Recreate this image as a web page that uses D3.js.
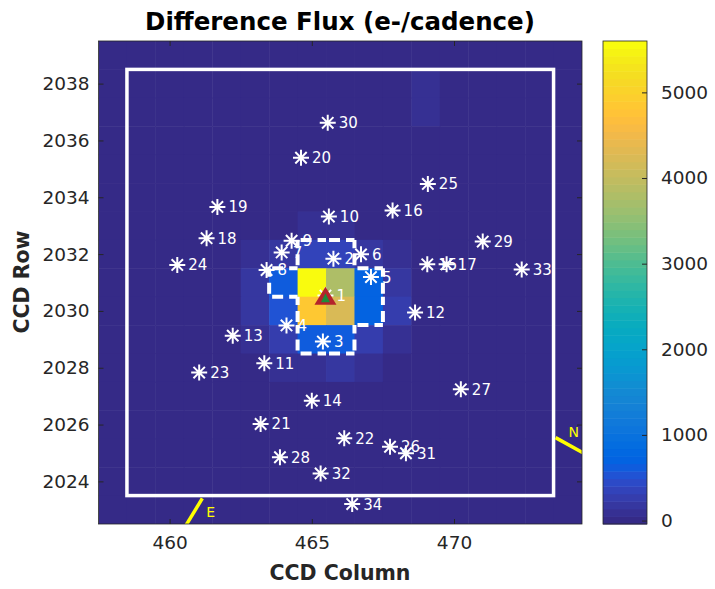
<!DOCTYPE html>
<html>
<head>
<meta charset="utf-8">
<script src="https://cdn.jsdelivr.net/npm/d3@7"></script>
<style>
  body { margin: 0; background: #fff; }
  text { font-family: "DejaVu Sans", sans-serif; }
</style>
</head>
<body>
<div id="chart"></div>
<script>
// pixel grid (CCD columns / rows) and difference flux per pixel, e-/cadence
var pixelCols = [458, 459, 460, 461, 462, 463, 464, 465, 466, 467, 468, 469, 470, 471, 472, 473, 474];
var pixelRows = [2039, 2038, 2037, 2036, 2035, 2034, 2033, 2032, 2031, 2030, 2029, 2028, 2027, 2026, 2025, 2024, 2023];
var fluxImage = [
  [0, 0, 0, 0, 0, 0,   0,    0,    0,   0,   0,  0, 0, 0, 0, 0, 0],
  [0, 0, 0, 0, 0, 0,   0,    0,    0,   0,   0, 90, 0, 0, 0, 0, 0],
  [0, 0, 0, 0, 0, 0,   0,    0,    0,   0,   0, 90, 0, 0, 0, 0, 0],
  [0, 0, 0, 0, 0, 0,   0,    0,    0,   0,   0,  0, 0, 0, 0, 0, 0],
  [0, 0, 0, 0, 0, 0,   0,    0,    0,   0,   0,  0, 0, 0, 0, 0, 0],
  [0, 0, 0, 0, 0, 0,   0,    0,    0,   0,   0,  0, 0, 0, 0, 0, 0],
  [0, 0, 0, 0, 0, 0,   0,  110,  110,   0,   0,  0, 0, 0, 0, 0, 0],
  [0, 0, 0, 0, 0, 90,  170, 330,  380, 170, 100,  0, 0, 0, 0, 0, 0],
  [0, 0, 0, 0, 0, 140, 620, 5580, 3820, 680, 200, 0, 0, 0, 0, 0, 0],
  [0, 0, 0, 0, 0, 190, 520, 4850, 4250, 700, 230, 0, 0, 0, 0, 0, 0],
  [0, 0, 0, 0, 0, 110, 260, 640,  660, 300, 120,  0, 0, 0, 0, 0, 0],
  [0, 0, 0, 0, 0, 0,   70,   80,  140,  80,   0,  0, 0, 0, 0, 0, 0],
  [0, 0, 0, 0, 0, 0,   0,    0,    0,   0,   0,  0, 0, 0, 0, 0, 0],
  [0, 0, 0, 0, 0, 0,   0,    0,    0,   0,   0,  0, 0, 0, 0, 0, 0],
  [0, 0, 0, 0, 0, 0,   0,    0,    0,   0,   0,  0, 0, 0, 0, 0, 0],
  [0, 0, 0, 0, 0, 0,   0,    0,    0,   0,   0,  0, 0, 0, 0, 0, 0],
  [0, 0, 0, 0, 0, 0,   0,    0,    0,   0,   0,  0, 0, 0, 0, 0, 0]
];

// optimal aperture pixels
var apertureCols = [465, 466, 464, 465, 466, 467, 465, 466, 467, 465, 466];
var apertureRows = [2032, 2032, 2031, 2031, 2031, 2031, 2030, 2030, 2030, 2029, 2029];

// catalog stars
var starIds  = [1, 2, 3, 4, 5, 6, 7, 8, 9, 10, 11, 12, 13, 14, 15, 16, 17, 18, 19, 20, 21, 22, 23, 24, 25, 26, 27, 28, 29, 30, 31, 32, 33, 34];
var starCols = [465.48, 465.76, 465.39, 464.11, 467.08, 466.73, 463.94, 463.41, 464.29, 465.60, 463.33, 468.63, 462.22, 465.00, 469.06, 467.84, 469.74,
                461.30, 461.68, 464.62, 463.20, 466.14, 461.04, 460.27, 469.08, 467.75, 470.24, 463.88, 471.01, 465.56, 468.31, 465.31, 472.38, 466.42];
var starRows = [2030.54, 2031.84, 2028.92, 2029.49, 2031.19, 2031.99, 2032.06, 2031.44, 2032.47, 2033.32, 2028.16, 2029.94, 2029.13, 2026.84, 2031.64, 2033.53, 2031.64,
                2032.56, 2033.66, 2035.39, 2026.02, 2025.52, 2027.83, 2031.62, 2034.47, 2025.22, 2027.24, 2024.85, 2032.44, 2036.62, 2024.99, 2024.28, 2031.46, 2023.20];

// target and centroid
var targetPos = [465.48, 2030.50];
var centroidPos = [465.48, 2030.45];

// outer mask box and compass
var maskCols = [458.5, 473.5];
var maskRows = [2023.5, 2038.5];
var northLineCols = [473.57, 475.0];
var northLineRows = [2025.54, 2024.75];
var northLabelPos = [474.21, 2025.75];
var eastLineCols = [461.15, 460.30];
var eastLineRows = [2023.40, 2022.00];
var eastLabelPos = [461.44, 2022.93];

var xTicks = [460, 465, 470];
var yTicks = [2024, 2026, 2028, 2030, 2032, 2034, 2036, 2038];
var cbarTicks = [0, 1000, 2000, 3000, 4000, 5000];
var colorLimits = [-40, 5600];

var parula = [
[0.2081,0.1663,0.5292],[0.2116,0.1898,0.5777],[0.2123,0.2138,0.6270],[0.2081,0.2386,0.6771],
[0.1959,0.2645,0.7279],[0.1707,0.2919,0.7792],[0.1253,0.3242,0.8303],[0.0591,0.3598,0.8683],
[0.0117,0.3875,0.8820],[0.0060,0.4086,0.8828],[0.0165,0.4266,0.8786],[0.0329,0.4430,0.8720],
[0.0498,0.4586,0.8641],[0.0629,0.4737,0.8554],[0.0723,0.4887,0.8467],[0.0779,0.5040,0.8384],
[0.0793,0.5200,0.8312],[0.0749,0.5375,0.8263],[0.0641,0.5570,0.8240],[0.0488,0.5772,0.8228],
[0.0343,0.5966,0.8199],[0.0265,0.6137,0.8135],[0.0239,0.6287,0.8038],[0.0231,0.6418,0.7913],
[0.0228,0.6535,0.7768],[0.0267,0.6642,0.7607],[0.0384,0.6743,0.7436],[0.0590,0.6838,0.7254],
[0.0843,0.6928,0.7062],[0.1133,0.7015,0.6859],[0.1453,0.7098,0.6646],[0.1801,0.7177,0.6424],
[0.2178,0.7250,0.6193],[0.2586,0.7317,0.5954],[0.3022,0.7376,0.5712],[0.3482,0.7424,0.5473],
[0.3953,0.7459,0.5244],[0.4420,0.7481,0.5033],[0.4871,0.7491,0.4840],[0.5300,0.7491,0.4661],
[0.5709,0.7485,0.4494],[0.6099,0.7473,0.4337],[0.6473,0.7456,0.4188],[0.6834,0.7435,0.4044],
[0.7184,0.7411,0.3905],[0.7525,0.7384,0.3768],[0.7858,0.7356,0.3633],[0.8185,0.7327,0.3498],
[0.8507,0.7299,0.3360],[0.8824,0.7274,0.3217],[0.9139,0.7258,0.3063],[0.9450,0.7261,0.2886],
[0.9739,0.7314,0.2666],[0.9938,0.7455,0.2403],[0.9990,0.7653,0.2164],[0.9955,0.7861,0.1967],
[0.9880,0.8066,0.1794],[0.9789,0.8271,0.1633],[0.9697,0.8481,0.1475],[0.9626,0.8705,0.1309],
[0.9589,0.8949,0.1132],[0.9598,0.9218,0.0948],[0.9661,0.9514,0.0755],[0.9763,0.9831,0.0538]
].map(function(c){ return d3.rgb(c[0]*255, c[1]*255, c[2]*255).formatHex(); });

var W = 715, H = 589;
var plot = {left: 98.5, right: 582, top: 41, bottom: 524};
var cbar = {left: 603, right: 647};
var axisColor = "#262626";

var svg = d3.select("#chart").append("svg")
  .attr("width", W)
  .attr("height", H);

var x = d3.scaleLinear().domain([457.5, 474.5]).range([plot.left, plot.right]);
var y = d3.scaleLinear().domain([2022.5, 2039.5]).range([plot.bottom, plot.top]);
var color = d3.scaleQuantize().domain(colorLimits).range(parula);

svg.append("clipPath").attr("id", "plotClip")
  .append("rect")
  .attr("x", plot.left).attr("y", plot.top)
  .attr("width", plot.right - plot.left).attr("height", plot.bottom - plot.top);

var g = svg.append("g").attr("clip-path", "url(#plotClip)");

// image pixels
var cells = [];
pixelRows.forEach(function(r, i){
  pixelCols.forEach(function(c, j){
    cells.push({col: c, row: r, v: fluxImage[i][j]});
  });
});
g.selectAll("rect.cell")
  .data(cells)
  .enter().append("rect")
  .attr("class", "cell")
  .attr("x", function(d){ return x(d.col - 0.5); })
  .attr("y", function(d){ return y(d.row + 0.5); })
  .attr("width", function(d){ return x(d.col + 0.5) - x(d.col - 0.5) + 0.5; })
  .attr("height", function(d){ return y(d.row - 0.5) - y(d.row + 0.5) + 0.5; })
  .style("fill", function(d){ return color(d.v); });

// outer mask box
g.append("rect")
  .attr("x", x(maskCols[0]))
  .attr("y", y(maskRows[1]))
  .attr("width", x(maskCols[1]) - x(maskCols[0]))
  .attr("height", y(maskRows[0]) - y(maskRows[1]))
  .style("fill", "none")
  .style("stroke", "#fff")
  .style("stroke-width", 3.5);

// stars with labels, drawn in order so later ones overlap earlier labels
var starPath = "M-8,0H8M0,-8V8M-5.7,-5.7L5.7,5.7M-5.7,5.7L5.7,-5.7";
starIds.forEach(function(id, i){
  var sg = g.append("g")
    .attr("transform", "translate(" + x(starCols[i]) + "," + y(starRows[i]) + ")");
  sg.append("path")
    .attr("d", starPath)
    .style("stroke", "#fff")
    .style("stroke-width", 2)
    .style("fill", "none");
  sg.append("text")
    .attr("x", 11)
    .attr("y", 5.5)
    .style("fill", "#fff")
    .style("font-size", "15px")
    .text(id);
});

// aperture outline, edge by edge
var inAperture = {};
apertureCols.forEach(function(c, i){ inAperture[c + "_" + apertureRows[i]] = true; });
var edges = [];
apertureCols.forEach(function(c, i){
  var r = apertureRows[i];
  if (!inAperture[c + "_" + (r + 1)]) edges.push([c - 0.5, r + 0.5, c + 0.5, r + 0.5]);
  if (!inAperture[c + "_" + (r - 1)]) edges.push([c - 0.5, r - 0.5, c + 0.5, r - 0.5]);
  if (!inAperture[(c - 1) + "_" + r]) edges.push([c - 0.5, r - 0.5, c - 0.5, r + 0.5]);
  if (!inAperture[(c + 1) + "_" + r]) edges.push([c + 0.5, r - 0.5, c + 0.5, r + 0.5]);
});
g.selectAll("line.ap")
  .data(edges)
  .enter().append("line")
  .attr("class", "ap")
  .attr("x1", function(d){ return x(d[0]); })
  .attr("y1", function(d){ return y(d[1]); })
  .attr("x2", function(d){ return x(d[2]); })
  .attr("y2", function(d){ return y(d[3]); })
  .style("stroke", "#fff")
  .style("stroke-width", 4)
  .style("stroke-dasharray", "11,6")
  .style("stroke-dashoffset", -3);

// target (red) and centroid (green)
g.append("path")
  .attr("transform", "translate(" + x(targetPos[0]) + "," + y(targetPos[1]) + ")")
  .attr("d", "M0,-10L11,8L-11,8Z")
  .style("fill", "#b4232b");
g.append("path")
  .attr("transform", "translate(" + x(centroidPos[0]) + "," + y(centroidPos[1]) + ")")
  .attr("d", "M0,-5L4.5,4L-4.5,4Z")
  .style("fill", "#1f8a3c");

// compass
g.append("line")
  .attr("x1", x(northLineCols[0])).attr("y1", y(northLineRows[0]))
  .attr("x2", x(northLineCols[1])).attr("y2", y(northLineRows[1]))
  .style("stroke", "#ffff00").style("stroke-width", 3.5);
g.append("text")
  .attr("x", x(northLabelPos[0])).attr("y", y(northLabelPos[1]))
  .attr("text-anchor", "middle").attr("dy", "0.35em")
  .style("fill", "#ffff00").style("font-size", "14px")
  .text("N");
g.append("line")
  .attr("x1", x(eastLineCols[0])).attr("y1", y(eastLineRows[0]))
  .attr("x2", x(eastLineCols[1])).attr("y2", y(eastLineRows[1]))
  .style("stroke", "#ffff00").style("stroke-width", 3.5);
g.append("text")
  .attr("x", x(eastLabelPos[0])).attr("y", y(eastLabelPos[1]))
  .attr("text-anchor", "middle").attr("dy", "0.35em")
  .style("fill", "#ffff00").style("font-size", "14px")
  .text("E");

// axes, ticks inward on all sides
var tickLen = 5;
function styleAxis(sel){
  sel.select(".domain").remove();
  sel.selectAll("line").style("stroke", axisColor);
  sel.selectAll("text").style("fill", axisColor).style("font-size", "18.5px");
}
svg.append("g")
  .attr("transform", "translate(0," + plot.bottom + ")")
  .call(d3.axisBottom(x).tickValues(xTicks).tickSize(-tickLen).tickPadding(12).tickFormat(d3.format("d")))
  .call(styleAxis);
svg.append("g")
  .attr("transform", "translate(0," + plot.top + ")")
  .call(d3.axisTop(x).tickValues(xTicks).tickSize(-tickLen).tickFormat(""))
  .call(styleAxis);
svg.append("g")
  .attr("transform", "translate(" + plot.left + ",0)")
  .call(d3.axisLeft(y).tickValues(yTicks).tickSize(-tickLen).tickPadding(9).tickFormat(d3.format("d")))
  .call(styleAxis);
svg.append("g")
  .attr("transform", "translate(" + plot.right + ",0)")
  .call(d3.axisRight(y).tickValues(yTicks).tickSize(-tickLen).tickFormat(""))
  .call(styleAxis);

svg.append("rect")
  .attr("x", plot.left).attr("y", plot.top)
  .attr("width", plot.right - plot.left).attr("height", plot.bottom - plot.top)
  .style("fill", "none").style("stroke", axisColor).style("stroke-width", 0.8);

// colorbar
var cy = d3.scaleLinear().domain(colorLimits).range([plot.bottom, plot.top]);
var binStep = (colorLimits[1] - colorLimits[0]) / parula.length;
svg.selectAll("rect.cb")
  .data(parula)
  .enter().append("rect")
  .attr("class", "cb")
  .attr("x", cbar.left)
  .attr("width", cbar.right - cbar.left)
  .attr("y", function(d, i){ return cy(colorLimits[0] + (i + 1) * binStep); })
  .attr("height", function(d, i){ return cy(colorLimits[0] + i * binStep) - cy(colorLimits[0] + (i + 1) * binStep) + 0.5; })
  .style("fill", function(d){ return d; });
svg.append("g")
  .attr("transform", "translate(" + cbar.right + ",0)")
  .call(d3.axisRight(cy).tickValues(cbarTicks).tickSize(-tickLen).tickPadding(14).tickFormat(d3.format("d")))
  .call(styleAxis);
svg.append("rect")
  .attr("x", cbar.left).attr("y", plot.top)
  .attr("width", cbar.right - cbar.left).attr("height", plot.bottom - plot.top)
  .style("fill", "none").style("stroke", axisColor).style("stroke-width", 0.8);

// titles
svg.append("text")
  .attr("x", 340).attr("y", 30)
  .attr("text-anchor", "middle")
  .style("font-size", "24.5px").style("font-weight", "bold").style("fill", "#000")
  .text("Difference Flux (e-/cadence)");
svg.append("text")
  .attr("x", 340).attr("y", 580)
  .attr("text-anchor", "middle")
  .style("font-size", "20.5px").style("font-weight", "bold").style("fill", axisColor)
  .text("CCD Column");
svg.append("text")
  .attr("transform", "translate(29,282) rotate(-90)")
  .attr("text-anchor", "middle")
  .style("font-size", "20.5px").style("font-weight", "bold").style("fill", axisColor)
  .text("CCD Row");
</script>
</body>
</html>
